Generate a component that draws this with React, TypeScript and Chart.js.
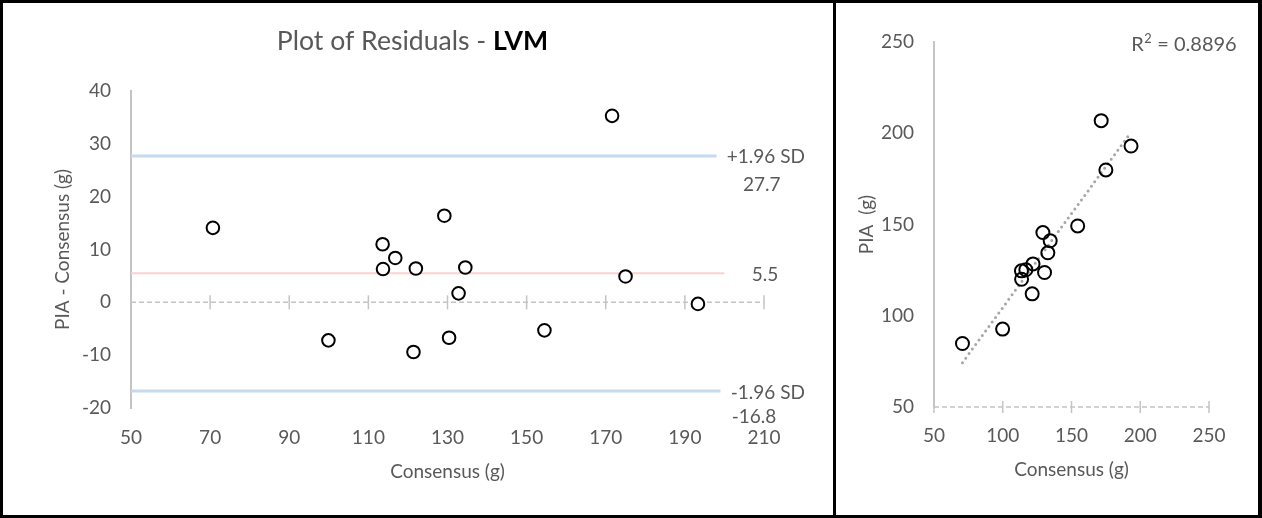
import React, { useEffect, useRef } from "react";
import { Chart, registerables } from "chart.js";

Chart.register(...registerables);

// ---------- data ----------
const consensus = [70.7, 99.9, 113.6, 113.7, 116.8, 121.4, 122.0, 129.2, 130.4, 132.8, 134.5, 154.5, 171.6, 175.0, 193.3];
const residuals = [14.1, -7.2, 11.0, 6.3, 8.4, -9.4, 6.4, 16.4, -6.7, 1.7, 6.6, -5.3, 35.3, 4.9, -0.3];
const pia = [84.8, 92.7, 124.6, 120.0, 125.2, 112.0, 128.4, 145.6, 123.7, 134.5, 141.1, 149.2, 206.9, 179.9, 193.0];

const upperSD = 27.7;
const meanDiff = 5.5;
const lowerSD = -16.8;
const limitStartX = 50;
const upperEndX = 198;
const meanEndX = 200;
const lowerEndX = 199;

const leftXTicks = [50, 70, 90, 110, 130, 150, 170, 190, 210];
const leftYTicks = [-20, -10, 0, 10, 20, 30, 40];
const rightTicks = [50, 100, 150, 200, 250];

const trendX = [70.7, 193.3];
const trendY = [74.3, 200.6];
const r2Text = "0.8896";

// ---------- styles ----------
const TEXT = "#595959";
const FAMILY = "Lato";
const SMALL = 19;
const TITLE = 26.6;
const AXIS = "#c4c4c4";

const font = { family: FAMILY, size: SMALL };

const leftTitlePlugin = {
  id: "leftTitle",
  afterDraw(chart: any) {
    const ctx = chart.ctx;
    ctx.save();
    const a = "Plot of Residuals - ";
    const b = "LVM";
    ctx.font = `${TITLE}px ${FAMILY}`;
    const wa = ctx.measureText(a).width;
    ctx.font = `bold ${TITLE}px ${FAMILY}`;
    const wb = ctx.measureText(b).width;
    const cx = 409.5;
    const x0 = cx - (wa + wb) / 2;
    ctx.textBaseline = "alphabetic";
    ctx.textAlign = "left";
    ctx.font = `${TITLE}px ${FAMILY}`;
    ctx.fillStyle = TEXT;
    ctx.fillText(a, x0, 47);
    ctx.font = `bold ${TITLE}px ${FAMILY}`;
    ctx.fillStyle = "#000";
    ctx.fillText(b, x0 + wa, 47);
    ctx.restore();
  },
};

const sdLabelPlugin = {
  id: "sdLabels",
  afterDraw(chart: any) {
    const { ctx, scales } = chart;
    const xs = scales.x;
    const ys = scales.y;
    ctx.save();
    ctx.font = `${SMALL}px ${FAMILY}`;
    ctx.fillStyle = TEXT;
    ctx.textAlign = "left";
    ctx.textBaseline = "middle";
    const ax = xs.getPixelForValue(meanEndX);
    const items: [string, number, number][] = [
      ["+1.96 SD", ax + 2.3, ys.getPixelForValue(upperSD) + 1],
      [upperSD.toFixed(1), ax + 18.6, ys.getPixelForValue(upperSD) + 28.8],
      [meanDiff.toFixed(1), ax + 27.3, ys.getPixelForValue(meanDiff) + 1.5],
      ["-1.96 SD", ax + 6.3, ys.getPixelForValue(lowerSD) + 2],
      [lowerSD.toFixed(1), ax + 7.3, ys.getPixelForValue(lowerSD) + 25.5],
    ];
    items.forEach(([t, x, y]) => ctx.fillText(t, x, y));
    ctx.restore();
  },
};

const r2Plugin = {
  id: "r2",
  afterDraw(chart: any) {
    const { ctx, chartArea } = chart;
    ctx.save();
    const big = `20px ${FAMILY}`;
    const sup = `${20 * 0.64}px ${FAMILY}`;
    const rest = ` = ${r2Text}`;
    ctx.font = big;
    const wR = ctx.measureText("R").width;
    const wRest = ctx.measureText(rest).width;
    ctx.font = sup;
    const wSup = ctx.measureText("2").width + 1;
    const right = chartArea.right + 27.7;
    const x0 = right - (wR + wSup + wRest);
    const yMid = chartArea.top + 2.5;
    ctx.fillStyle = TEXT;
    ctx.textAlign = "left";
    ctx.textBaseline = "middle";
    ctx.font = big;
    ctx.fillText("R", x0, yMid);
    ctx.font = sup;
    ctx.fillText("2", x0 + wR + 0.5, yMid - 20 * 0.26);
    ctx.font = big;
    ctx.fillText(rest, x0 + wR + wSup, yMid);
    ctx.restore();
  },
};

function makeLeft(canvas: HTMLCanvasElement) {
  return new Chart(canvas, {
    type: "scatter",
    data: {
      datasets: [
        {
          data: consensus.map((x, i) => ({ x, y: residuals[i] })),
          pointRadius: 6.3,
          borderWidth: 2,
          borderColor: "#000",
          backgroundColor: "#fff",
          clip: false,
        },
        {
          data: leftXTicks.map((v) => ({ x: v, y: 0 })),
          pointStyle: "line",
          rotation: 90,
          pointRadius: 7,
          borderWidth: 1.5,
          borderColor: AXIS,
          clip: false,
        },
        {
          data: [
            { x: leftXTicks[0], y: 0 },
            { x: leftXTicks[leftXTicks.length - 1], y: 0 },
          ],
          showLine: true,
          pointRadius: 0,
          borderWidth: 1.5,
          borderColor: AXIS,
          borderDash: [5, 3],
          clip: false,
        },
        {
          data: [
            { x: limitStartX, y: lowerSD },
            { x: lowerEndX, y: lowerSD },
          ],
          showLine: true,
          pointRadius: 0,
          borderWidth: 3,
          borderColor: "#c5daee",
        },
        {
          data: [
            { x: limitStartX, y: meanDiff },
            { x: meanEndX, y: meanDiff },
          ],
          showLine: true,
          pointRadius: 0,
          borderWidth: 2,
          borderColor: "#fcd0d0",
        },
        {
          data: [
            { x: limitStartX, y: upperSD },
            { x: upperEndX, y: upperSD },
          ],
          showLine: true,
          pointRadius: 0,
          borderWidth: 3,
          borderColor: "#c5daee",
        },
      ],
    } as any,
    options: {
      animation: false,
      responsive: false,
      maintainAspectRatio: false,
      events: [],
      layout: { padding: { left: 0, top: 88, right: 69, bottom: 0 } },
      plugins: { legend: { display: false }, tooltip: { enabled: false }, title: { display: false } },
      scales: {
        x: {
          type: "linear",
          position: "bottom",
          min: leftXTicks[0],
          max: leftXTicks[leftXTicks.length - 1],
          afterBuildTicks: (s: any) => {
            s.ticks = leftXTicks.map((v) => ({ value: v }));
          },
          ticks: { padding: 18, color: TEXT, font },
          grid: { display: false, drawTicks: false },
          border: { display: false },
          title: { display: true, text: "Consensus (g)", color: TEXT, font, padding: { top: 0, bottom: 32 } },
          afterFit: (s: any) => {
            s.height = 107;
          },
        },
        y: {
          type: "linear",
          min: leftYTicks[0],
          max: leftYTicks[leftYTicks.length - 1],
          afterBuildTicks: (s: any) => {
            s.ticks = leftYTicks.map((v) => ({ value: v }));
          },
          ticks: { padding: 20, color: TEXT, font },
          grid: { display: false, drawTicks: false },
          border: { display: true, color: AXIS, width: 2 },
          title: { display: true, text: "PIA - Consensus (g)", color: TEXT, font, padding: { top: 48, bottom: 0 } },
          afterFit: (s: any) => {
            s.width = 128;
          },
        },
      },
    } as any,
    plugins: [leftTitlePlugin, sdLabelPlugin],
  });
}

function makeRight(canvas: HTMLCanvasElement) {
  return new Chart(canvas, {
    type: "scatter",
    data: {
      datasets: [
        {
          data: consensus.map((x, i) => ({ x, y: pia[i] })),
          pointRadius: 6.5,
          borderWidth: 2,
          borderColor: "#000",
          backgroundColor: "rgba(255,255,255,0)",
          clip: false,
        },
        {
          data: trendX.map((x, i) => ({ x, y: trendY[i] })),
          showLine: true,
          pointRadius: 0,
          borderWidth: 3,
          borderColor: "#a6a6a6",
          borderDash: [0, 5.6],
          borderCapStyle: "round",
        },
        {
          data: rightTicks.map((v) => ({ x: v, y: rightTicks[0] })),
          pointStyle: "line",
          rotation: 90,
          pointRadius: 6,
          borderWidth: 1.5,
          borderColor: AXIS,
          clip: false,
        },
        {
          data: [
            { x: rightTicks[0], y: rightTicks[0] },
            { x: rightTicks[rightTicks.length - 1], y: rightTicks[0] },
          ],
          showLine: true,
          pointRadius: 0,
          borderWidth: 1.5,
          borderColor: AXIS,
          borderDash: [5, 3],
          clip: false,
        },
      ],
    } as any,
    options: {
      animation: false,
      responsive: false,
      maintainAspectRatio: false,
      events: [],
      layout: { padding: { left: 0, top: 39, right: 49, bottom: 0 } },
      plugins: { legend: { display: false }, tooltip: { enabled: false }, title: { display: false } },
      scales: {
        x: {
          type: "linear",
          position: "bottom",
          min: rightTicks[0],
          max: rightTicks[rightTicks.length - 1],
          afterBuildTicks: (s: any) => {
            s.ticks = rightTicks.map((v) => ({ value: v }));
          },
          ticks: { padding: 17, color: TEXT, font },
          grid: { display: false, drawTicks: false },
          border: { display: false },
          title: { display: true, text: "Consensus (g)", color: TEXT, font, padding: { top: 0, bottom: 34 } },
          afterFit: (s: any) => {
            s.height = 108;
          },
        },
        y: {
          type: "linear",
          min: rightTicks[0],
          max: rightTicks[rightTicks.length - 1],
          afterBuildTicks: (s: any) => {
            s.ticks = rightTicks.map((v) => ({ value: v }));
          },
          ticks: { padding: 20, color: TEXT, font },
          grid: { display: false, drawTicks: false },
          border: { display: true, color: AXIS, width: 2 },
          title: { display: true, text: "PIA  (g)", color: TEXT, font, padding: { top: 19, bottom: 0 } },
          afterFit: (s: any) => {
            s.width = 98;
          },
        },
      },
    } as any,
    plugins: [r2Plugin],
  });
}

export default function App() {
  const leftRef = useRef<HTMLCanvasElement | null>(null);
  const rightRef = useRef<HTMLCanvasElement | null>(null);

  useEffect(() => {
    document.body.style.margin = "0";
    const charts: Chart[] = [];
    if (leftRef.current) charts.push(makeLeft(leftRef.current));
    if (rightRef.current) charts.push(makeRight(rightRef.current));
    return () => {
      charts.forEach((c) => c.destroy());
    };
  }, []);

  return (
    <div
      style={{
        position: "relative",
        width: 1262,
        height: 518,
        boxSizing: "border-box",
        borderStyle: "solid",
        borderColor: "#000",
        borderWidth: "3px 4px 3px 3px",
        background: "#fff",
        overflow: "hidden",
      }}
    >
      <canvas
        ref={leftRef}
        width={830}
        height={512}
        style={{ position: "absolute", left: 0, top: 0, width: 830, height: 512 }}
      />
      <div style={{ position: "absolute", left: 830, top: 0, width: 3, height: 512, background: "#000" }} />
      <canvas
        ref={rightRef}
        width={422}
        height={512}
        style={{ position: "absolute", left: 833, top: 0, width: 422, height: 512 }}
      />
    </div>
  );
}
